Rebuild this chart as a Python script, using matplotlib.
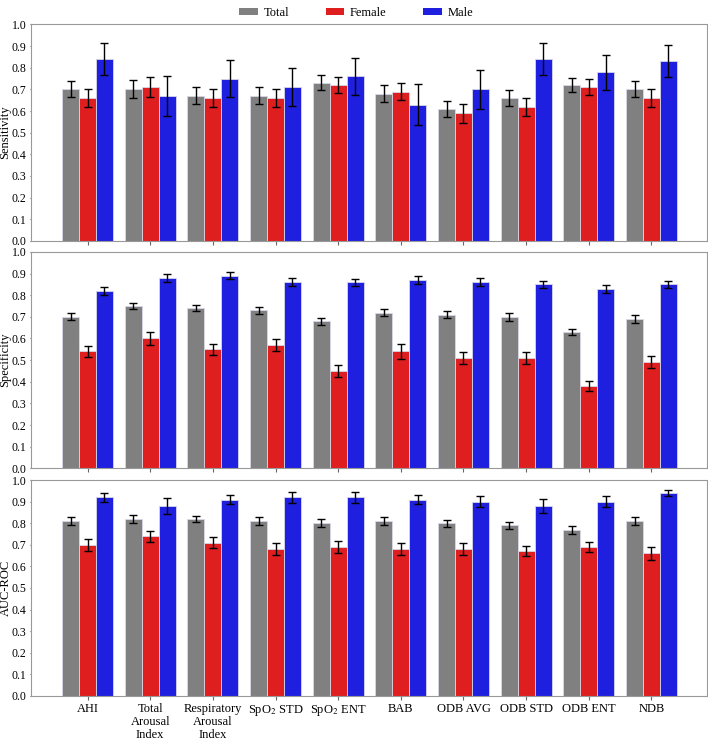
import numpy as np
import matplotlib
matplotlib.use("Agg")
import matplotlib.pyplot as plt
from matplotlib.patches import Patch

plt.rcParams.update({
    "font.family": "Liberation Serif",
    "mathtext.fontset": "stix",
    "font.size": 9,
    "xtick.labelsize": 9,
    "ytick.labelsize": 8.5,
})

# ===========================
# Data
# ===========================
features = ["AHI", "Total\nArousal\nIndex", "Respiratory\nArousal\nIndex",
            r"SpO$_2$ STD", r"SpO$_2$ ENT", "BAB", "ODB AVG", "ODB STD",
            "ODB ENT", "NDB"]
groups = ["Total", "Female", "Male"]
colors = ["#808080", "#df1f1f", "#1f1fdf"]

# Sensitivity
sens_total = [0.70, 0.70, 0.67, 0.67, 0.73, 0.68, 0.61, 0.66, 0.72, 0.70]
sens_total_err = [0.037, 0.042, 0.039, 0.039, 0.035, 0.039, 0.038, 0.037, 0.032, 0.037]
sens_female = [0.66, 0.71, 0.66, 0.66, 0.72, 0.69, 0.59, 0.62, 0.71, 0.66]
sens_female_err = [0.042, 0.045, 0.042, 0.042, 0.039, 0.039, 0.044, 0.042, 0.037, 0.040]
sens_male = [0.84, 0.67, 0.75, 0.71, 0.76, 0.63, 0.70, 0.84, 0.78, 0.83]
sens_male_err = [0.073, 0.092, 0.086, 0.089, 0.086, 0.095, 0.091, 0.073, 0.081, 0.074]

# Specificity
spec_total = [0.70, 0.75, 0.74, 0.73, 0.68, 0.72, 0.71, 0.70, 0.63, 0.69]
spec_total_err = [0.016, 0.014, 0.014, 0.017, 0.016, 0.018, 0.017, 0.017, 0.016, 0.018]
spec_female = [0.54, 0.60, 0.55, 0.57, 0.45, 0.54, 0.51, 0.51, 0.38, 0.49]
spec_female_err = [0.027, 0.028, 0.025, 0.029, 0.027, 0.033, 0.029, 0.029, 0.024, 0.028]
spec_male = [0.82, 0.88, 0.89, 0.86, 0.86, 0.87, 0.86, 0.85, 0.83, 0.85]
spec_male_err = [0.017, 0.017, 0.016, 0.018, 0.017, 0.018, 0.018, 0.018, 0.018, 0.018]

# AUC-ROC
auc_total = [0.81, 0.82, 0.82, 0.81, 0.80, 0.81, 0.80, 0.79, 0.77, 0.81]
auc_total_err = [0.017, 0.019, 0.015, 0.017, 0.019, 0.017, 0.017, 0.016, 0.018, 0.017]
auc_female = [0.70, 0.74, 0.71, 0.68, 0.69, 0.68, 0.68, 0.67, 0.69, 0.66]
auc_female_err = [0.028, 0.026, 0.026, 0.028, 0.028, 0.029, 0.028, 0.023, 0.024, 0.028]
auc_male = [0.92, 0.88, 0.91, 0.92, 0.92, 0.91, 0.90, 0.88, 0.90, 0.94]
auc_male_err = [0.022, 0.036, 0.022, 0.025, 0.025, 0.022, 0.026, 0.033, 0.026, 0.015]

panels = [
    ("Sensitivity", [sens_total, sens_female, sens_male],
     [sens_total_err, sens_female_err, sens_male_err]),
    ("Specificity", [spec_total, spec_female, spec_male],
     [spec_total_err, spec_female_err, spec_male_err]),
    ("AUC-ROC", [auc_total, auc_female, auc_male],
     [auc_total_err, auc_female_err, auc_male_err]),
]

# ===========================
# Plot
# ===========================
fig = plt.figure(figsize=(7.08, 7.41), dpi=100)
rects = [
    [0.044, 0.675, 0.954, 0.292],
    [0.044, 0.368, 0.954, 0.292],
    [0.044, 0.061, 0.954, 0.291],
]

x = np.arange(len(features))
w = 0.27

for (ylabel, vals, errs), rect in zip(panels, rects):
    ax = fig.add_axes(rect)
    for k in range(3):
        ax.bar(x + (k - 1) * w, vals[k], w, yerr=errs[k], color=colors[k],
               edgecolor="#d8d8e8", linewidth=0.6,
               error_kw=dict(ecolor="black", elinewidth=1, capsize=3, capthick=1))
    ax.set_xlim(-0.9, 9.88)
    ax.set_ylim(0, 1.0)
    ax.set_yticks(np.arange(0, 1.01, 0.1))
    ax.set_yticklabels([f"{v:.1f}" for v in np.arange(0, 1.01, 0.1)])
    ax.set_xticks(x)
    ax.set_ylabel(ylabel, fontsize=9)
    ax.yaxis.set_label_coords(-0.029, 0.5)
    for sp in ax.spines.values():
        sp.set_color("#999999")
    ax.tick_params(axis="y", length=1, color="#666666", pad=2.5)
    ax.tick_params(axis="x", length=3, color="#666666", pad=2)
    if ylabel == "AUC-ROC":
        ax.set_xticklabels(features, linespacing=1.15)
        ax.tick_params(axis="x", pad=2)
    else:
        ax.set_xticklabels([])

handles = [Patch(facecolor=c) for c in colors]
fig.legend(handles, groups, loc="upper center", bbox_to_anchor=(0.503, 1.006),
           ncol=3, frameon=False, fontsize=9, handlelength=1.5,
           handleheight=0.45, columnspacing=2.9, handletextpad=0.45)

plt.savefig("out.png", dpi=100)
